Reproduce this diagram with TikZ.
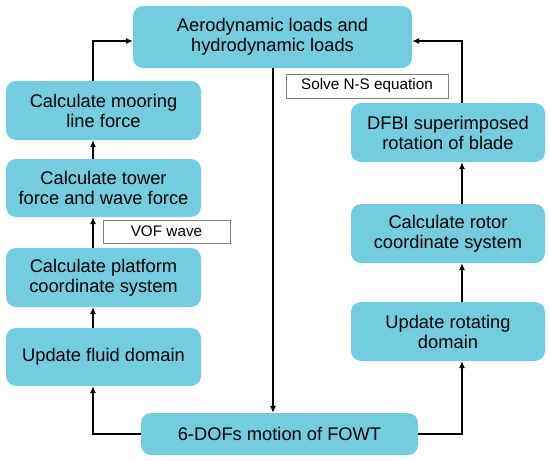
\documentclass[tikz,border=0pt]{standalone}
\usepackage{fontspec}
\setmainfont{Liberation Sans}
\usetikzlibrary{arrows.meta}
\definecolor{boxcyan}{HTML}{74CDDE}
\definecolor{lblgray}{HTML}{808080}
\begin{document}
\begin{tikzpicture}[x=1pt,y=-1pt,
  stepbox/.style={rectangle, rounded corners=10pt, fill=boxcyan, draw=none, align=center,
    font=\fontsize{18.3}{20}\selectfont, inner sep=0pt},
  lblbox/.style={rectangle, draw=lblgray, line width=0.8pt, fill=white, inner sep=0pt,
    font=\fontsize{15.3}{17}\selectfont},
  arr/.style={draw=black, line width=1.1pt, -{Latex[length=7pt,width=6pt]}}]
\useasboundingbox (0,0) rectangle (550,461);
\coordinate (L) at (93,0);
\coordinate (R) at (462,0);
\coordinate (M) at (273,0);
\node[stepbox, minimum width=279pt, minimum height=62pt] (top) at (272.5,37) {Aerodynamic loads and\\hydrodynamic loads};
\node[stepbox, minimum width=195pt, minimum height=59pt] (moor) at (103.5,110.5) {Calculate mooring\\line force};
\node[stepbox, minimum width=195pt, minimum height=58pt] (tower) at (103.5,188) {Calculate tower\\force and wave force};
\node[stepbox, minimum width=195pt, minimum height=59pt] (plat) at (103.5,277.5) {Calculate platform\\coordinate system};
\node[stepbox, minimum width=195pt, minimum height=58pt] (fluid) at (103.5,357) {Update fluid domain};
\node[stepbox, minimum width=277pt, minimum height=42pt] (bot) at (279.5,434) {6-DOFs motion of FOWT};
\node[stepbox, minimum width=194pt, minimum height=59pt] (dfbi) at (448,132.5) {DFBI superimposed\\rotation of blade};
\node[stepbox, minimum width=194pt, minimum height=59pt] (rotor) at (448,233.5) {Calculate rotor\\coordinate system};
\node[stepbox, minimum width=194pt, minimum height=59pt] (rotd) at (448,331.5) {Update rotating\\domain};
\node[lblbox, minimum width=162pt, minimum height=24pt] (ns) at (367,86) {Solve N-S equation};
\node[lblbox, minimum width=127pt, minimum height=23pt] (vof) at (166.5,231.5) {VOF wave};
% left chain
\draw[arr] (moor.north -| L) |- ([yshift=-4pt]top.west);
\draw[arr] (tower.north -| L) -- (moor.south -| L);
\draw[arr] (plat.north -| L) -- (tower.south -| L);
\draw[arr] (fluid.north -| L) -- (plat.south -| L);
\draw[arr] (bot.west) -| (fluid.south -| L);
% middle
\draw[arr] (top.south -| M) -- (bot.north -| M);
% right chain
\draw[arr] (bot.east) -| (rotd.south -| R);
\draw[arr] (rotd.north -| R) -- (rotor.south -| R);
\draw[arr] (rotor.north -| R) -- (dfbi.south -| R);
\draw[arr] (dfbi.north -| R) |- ([yshift=-4pt]top.east);
\end{tikzpicture}
\end{document}
